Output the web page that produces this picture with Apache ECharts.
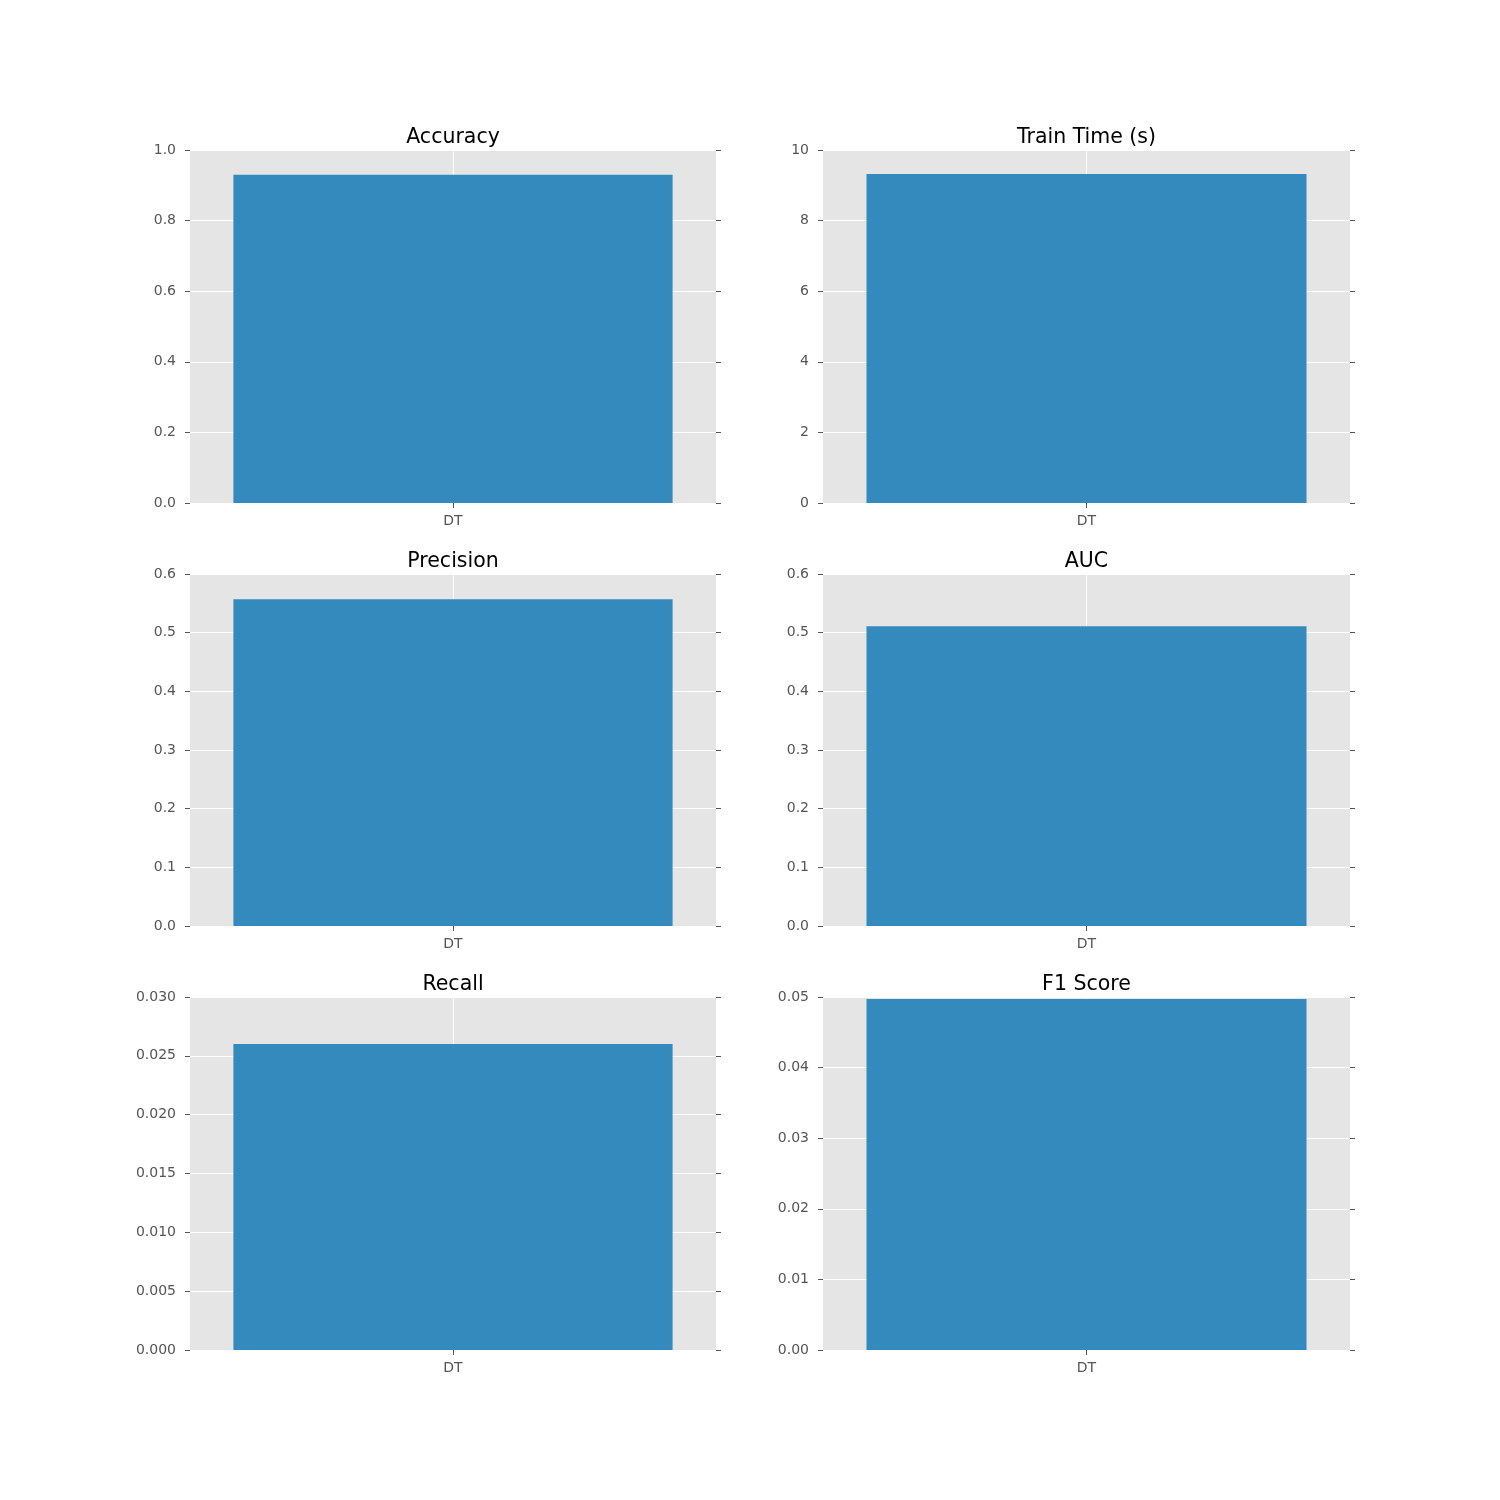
<!DOCTYPE html>
<html><head><meta charset="utf-8">
<script src="https://cdn.jsdelivr.net/npm/echarts@6/dist/echarts.min.js"></script>
<style>html,body{margin:0;padding:0;background:#fff}#c{width:1500px;height:1500px}</style>
</head><body><div id="c"></div>
<script>
const categories = ['DT'];
const titles = ['Accuracy', 'Train Time (s)', 'Precision', 'AUC', 'Recall', 'F1 Score'];
const accuracy = [0.930];
const trainTime = [9.32];
const precision = [0.557];
const auc = [0.511];
const recall = [0.026];
const f1Score = [0.0497];
const yMax = [1.0, 10, 0.6, 0.6, 0.03, 0.05];
const yInterval = [0.2, 2, 0.1, 0.1, 0.005, 0.01];
const yDecimals = [1, 0, 1, 1, 3, 2];
const seriesValues = [accuracy, trainTime, precision, auc, recall, f1Score];

const gridBoxes = [
  [190, 150, 526, 353], [823, 150, 527, 353],
  [190, 574, 526, 352], [823, 574, 527, 352],
  [190, 997, 526, 353], [823, 997, 527, 353]
];
const FONT = 'DejaVu Sans';
const tickColor = '#555555';

const option = { animation: false, backgroundColor: '#ffffff', title: [], grid: [], xAxis: [], yAxis: [], series: [] };

gridBoxes.forEach((b, i) => {
  option.grid.push({ left: b[0], top: b[1], width: b[2], height: b[3], show: true, backgroundColor: '#E5E5E5', borderWidth: 0, containLabel: false });
  option.title.push({ text: titles[i], left: b[0] + b[2] / 2, top: b[1] - 23, textAlign: 'center', padding: 0,
    textStyle: { fontFamily: FONT, fontSize: 20.5, fontWeight: 'normal', color: '#000' } });
  option.xAxis.push({ type: 'category', gridIndex: i, data: categories, position: 'bottom',
    axisLine: { show: false },
    axisTick: { show: true, alignWithLabel: true, length: 5, lineStyle: { color: tickColor } },
    axisLabel: { fontFamily: FONT, fontSize: 14, color: tickColor, margin: 11 },
    splitLine: { show: false } });
  option.xAxis.push({ type: 'category', gridIndex: i, data: categories, position: 'top',
    axisLine: { show: false },
    axisTick: { show: true, alignWithLabel: true, length: 5, lineStyle: { color: tickColor } },
    axisLabel: { show: false }, splitLine: { show: false } });
  const d = yDecimals[i];
  option.yAxis.push({ type: 'value', gridIndex: i, min: 0, max: yMax[i], interval: yInterval[i], position: 'left',
    axisLine: { show: false },
    axisTick: { show: true, length: 5, lineStyle: { color: tickColor } },
    axisLabel: { fontFamily: FONT, fontSize: 14, color: tickColor, margin: 14, formatter: v => v.toFixed(d) },
    splitLine: { show: true, lineStyle: { color: '#ffffff', width: 1 } } });
  option.yAxis.push({ type: 'value', gridIndex: i, min: 0, max: yMax[i], interval: yInterval[i], position: 'right',
    axisLine: { show: false },
    axisTick: { show: true, length: 5, lineStyle: { color: tickColor } },
    axisLabel: { show: false }, splitLine: { show: false } });
  option.series.push({ type: 'line', xAxisIndex: 2 * i, yAxisIndex: 2 * i, data: [], z: 1, silent: true,
    markLine: { z: 1, silent: true, symbol: ['none', 'none'], label: { show: false },
      lineStyle: { color: '#ffffff', width: 1, type: 'solid' }, data: [{ xAxis: categories[0] }] } });
  option.series.push({ type: 'bar', xAxisIndex: 2 * i, yAxisIndex: 2 * i, data: seriesValues[i], z: 3,
    barWidth: '83.5%', itemStyle: { color: '#348ABD' }, silent: true });
});

const chart = echarts.init(document.getElementById('c'), null, { renderer: 'canvas' });
chart.setOption(option);
</script></body></html>
